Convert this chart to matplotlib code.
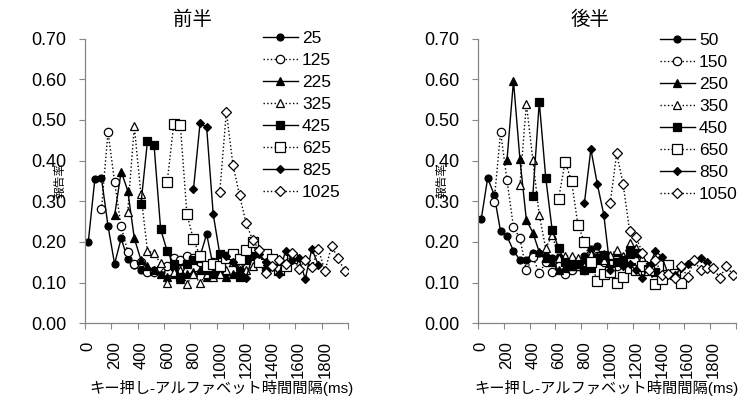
import matplotlib
matplotlib.use("Agg")
import matplotlib.pyplot as plt
from matplotlib.ticker import FixedLocator, NullFormatter

plt.rcParams['font.family'] = ['Liberation Sans', 'Noto Sans CJK JP', 'DejaVu Sans']

# ---- data (report rate, one point every 50 ms, 20 points per series) ----
step = 50

first_labels = ["25", "125", "225", "325", "425", "625", "825", "1025"]
first_starts = [0, 100, 200, 300, 400, 600, 800, 1000]
first_values = [
    [0.200, 0.355, 0.357, 0.239, 0.146, 0.209, 0.157, 0.143, 0.130, 0.128,
     0.130, 0.125, 0.140, 0.135, 0.150, 0.155, 0.160, 0.165, 0.219, 0.140],
    [0.280, 0.471, 0.347, 0.238, 0.176, 0.146, 0.150, 0.127, 0.127, 0.135,
     0.140, 0.160, 0.155, 0.165, 0.160, 0.150, 0.130, 0.150, 0.155, 0.165],
    [0.265, 0.373, 0.326, 0.209, 0.156, 0.140, 0.130, 0.120, 0.115, 0.120,
     0.110, 0.120, 0.125, 0.130, 0.115, 0.120, 0.125, 0.115, 0.120, 0.130],
    [0.274, 0.484, 0.318, 0.178, 0.172, 0.147, 0.100, 0.125, 0.130, 0.097,
     0.120, 0.100, 0.120, 0.115, 0.120, 0.130, 0.150, 0.140, 0.130, 0.140],
    [0.292, 0.448, 0.438, 0.232, 0.177, 0.146, 0.115, 0.145, 0.155, 0.160,
     0.130, 0.120, 0.170, 0.165, 0.160, 0.115, 0.155, 0.165, 0.155, 0.135],
    [0.347, 0.490, 0.488, 0.268, 0.206, 0.165, 0.140, 0.145, 0.140, 0.160,
     0.170, 0.157, 0.180, 0.200, 0.150, 0.170, 0.158, 0.130, 0.140, 0.160],
    [0.330, 0.492, 0.482, 0.268, 0.170, 0.165, 0.150, 0.130, 0.112, 0.165,
     0.170, 0.151, 0.140, 0.120, 0.178, 0.155, 0.160, 0.109, 0.183, 0.143],
    [0.323, 0.520, 0.390, 0.315, 0.246, 0.205, 0.180, 0.124, 0.140, 0.155,
     0.145, 0.172, 0.133, 0.155, 0.139, 0.182, 0.128, 0.190, 0.160, 0.128],
]

second_labels = ["50", "150", "250", "350", "450", "650", "850", "1050"]
second_starts = [0, 100, 200, 300, 400, 600, 800, 1000]
second_values = [
    [0.256, 0.357, 0.316, 0.226, 0.214, 0.178, 0.156, 0.156, 0.174, 0.172,
     0.165, 0.160, 0.162, 0.140, 0.150, 0.140, 0.165, 0.183, 0.189, 0.150],
    [0.298, 0.470, 0.351, 0.236, 0.209, 0.130, 0.163, 0.123, 0.150, 0.127,
     0.140, 0.120, 0.130, 0.140, 0.130, 0.160, 0.165, 0.150, 0.130, 0.140],
    [0.402, 0.596, 0.403, 0.254, 0.223, 0.175, 0.160, 0.150, 0.130, 0.135,
     0.140, 0.145, 0.150, 0.160, 0.155, 0.170, 0.165, 0.175, 0.160, 0.170],
    [0.340, 0.540, 0.402, 0.266, 0.184, 0.218, 0.160, 0.165, 0.166, 0.160,
     0.140, 0.170, 0.165, 0.155, 0.169, 0.180, 0.165, 0.197, 0.185, 0.160],
    [0.314, 0.544, 0.358, 0.229, 0.184, 0.150, 0.140, 0.145, 0.130, 0.135,
     0.160, 0.169, 0.133, 0.150, 0.155, 0.180, 0.172, 0.140, 0.140, 0.125],
    [0.306, 0.397, 0.350, 0.241, 0.200, 0.150, 0.103, 0.120, 0.127, 0.100,
     0.115, 0.135, 0.130, 0.140, 0.130, 0.096, 0.108, 0.144, 0.120, 0.099],
    [0.296, 0.428, 0.342, 0.267, 0.132, 0.150, 0.140, 0.145, 0.130, 0.111,
     0.140, 0.177, 0.164, 0.120, 0.119, 0.135, 0.145, 0.153, 0.160, 0.150],
    [0.296, 0.418, 0.342, 0.228, 0.212, 0.173, 0.130, 0.155, 0.119, 0.120,
     0.111, 0.140, 0.114, 0.155, 0.130, 0.136, 0.135, 0.111, 0.142, 0.119],
]

y_ticks = [0.0, 0.1, 0.2, 0.3, 0.4, 0.5, 0.6, 0.7]
x_labels = [0, 200, 400, 600, 800, 1000, 1200, 1400, 1600, 1800]

# marker, filled, linestyle, size
styles = [
    ("o", True, "-", 5.0),
    ("o", False, ":", 6.0),
    ("^", True, "-", 5.5),
    ("^", False, ":", 6.0),
    ("s", True, "-", 5.5),
    ("s", False, ":", 6.5),
    ("D", True, "-", 3.8),
    ("D", False, ":", 5.5),
]

grey = "#868686"

fig = plt.figure(figsize=(7.38, 4.01), dpi=100)
W, H = 738, 401


def add_panel(left_px, right_px, labels, starts, values, title, title_x,
              legend_xy, ylabel_x, xlabel_x):
    ax = fig.add_axes([left_px / W, 1 - 323.3 / H,
                       (right_px - left_px) / W, (323.3 - 38.5) / H])
    for lab, st, vals, (mk, filled, ls, ms) in zip(labels, starts, values, styles):
        xs = [st + step * k for k in range(len(vals))]
        ax.plot(xs, vals, color="black", linestyle=ls, linewidth=1.0,
                marker=mk, markersize=ms,
                markerfacecolor="black" if filled else "white",
                markeredgecolor="black", markeredgewidth=0.9, label=lab)
    ax.set_xlim(-25, 1975)
    ax.set_ylim(0, 0.7)
    ax.set_yticks(y_ticks)
    ax.set_yticklabels([f"{v:.2f}" for v in y_ticks])
    ax.xaxis.set_major_locator(FixedLocator([-25 + 200 * k for k in range(11)]))
    ax.xaxis.set_major_formatter(NullFormatter())
    ax.set_xticks(x_labels, [str(v) for v in x_labels], minor=True, rotation=90)
    ax.tick_params(axis="x", which="major", length=4, color=grey, direction="out")
    ax.tick_params(axis="x", which="minor", length=0, pad=13, labelsize=12)
    ax.tick_params(axis="y", length=4.5, color=grey, pad=9, labelsize=13)
    for side in ("top", "right"):
        ax.spines[side].set_visible(False)
    for side in ("left", "bottom"):
        ax.spines[side].set_color(grey)
        ax.spines[side].set_linewidth(0.9)
    fig.text(title_x / W, 1 - 20 / H, title, ha="center", va="center", fontsize=14)
    # y label sits in the gap between the 0.40 and 0.30 tick labels
    fig.text(ylabel_x / W, 1 - 180.5 / H, "報告率", rotation=90,
             ha="center", va="center", fontsize=8.5)
    fig.text(xlabel_x / W, 1 - 388 / H,
             "キー押し-アルファベット時間間隔(ms)",
             ha="center", va="center", fontsize=11)
    ax.legend(loc="upper left", bbox_to_anchor=(legend_xy[0] / W, 1 - legend_xy[1] / H),
              bbox_transform=fig.transFigure, frameon=False, fontsize=12.5,
              handlelength=2.0, handletextpad=0.25, labelspacing=0.39,
              borderpad=0, borderaxespad=0)
    return ax


add_panel(85, 348, first_labels, first_starts, first_values, "前半", 193,
          (263, 31), 60, 221)
add_panel(478, 736, second_labels, second_starts, second_values, "後半", 590,
          (660, 33), 442, 606)

fig.savefig("out.png", dpi=100)
